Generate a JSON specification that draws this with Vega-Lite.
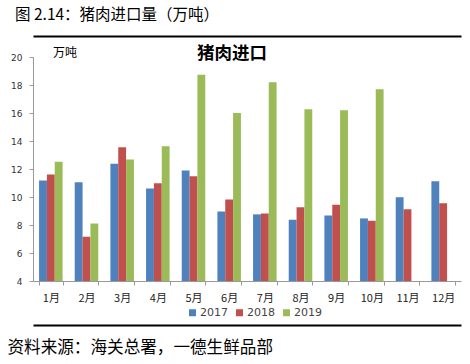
{
  "$schema": "https://vega.github.io/schema/vega-lite/v6.json",
  "width": 428,
  "height": 224,
  "autosize": "none",
  "padding": {"left": 33, "top": 57, "right": 9, "bottom": 83},
  "background": "white",
  "config": {"view": {"stroke": null}},
  "title": {
    "text": "图 2.14：猪肉进口量（万吨）",
    "anchor": "start",
    "frame": "group",
    "dx": -18,
    "offset": 13,
    "font": "Noto Sans CJK SC",
    "fontSize": 15.5,
    "fontWeight": "normal",
    "color": "#000000"
  },
  "data": {
    "values": [
      {"month": "1月", "year": "2017", "value": 11.17},
      {"month": "1月", "year": "2018", "value": 11.6},
      {"month": "1月", "year": "2019", "value": 12.52},
      {"month": "2月", "year": "2017", "value": 11.05},
      {"month": "2月", "year": "2018", "value": 7.16},
      {"month": "2月", "year": "2019", "value": 8.1},
      {"month": "3月", "year": "2017", "value": 12.37},
      {"month": "3月", "year": "2018", "value": 13.56},
      {"month": "3月", "year": "2019", "value": 12.68},
      {"month": "4月", "year": "2017", "value": 10.6},
      {"month": "4月", "year": "2018", "value": 10.98},
      {"month": "4月", "year": "2019", "value": 13.63},
      {"month": "5月", "year": "2017", "value": 11.9},
      {"month": "5月", "year": "2018", "value": 11.48},
      {"month": "5月", "year": "2019", "value": 18.73},
      {"month": "6月", "year": "2017", "value": 8.97},
      {"month": "6月", "year": "2018", "value": 9.83},
      {"month": "6月", "year": "2019", "value": 16.0},
      {"month": "7月", "year": "2017", "value": 8.76},
      {"month": "7月", "year": "2018", "value": 8.83},
      {"month": "7月", "year": "2019", "value": 18.2},
      {"month": "8月", "year": "2017", "value": 8.38},
      {"month": "8月", "year": "2018", "value": 9.26},
      {"month": "8月", "year": "2019", "value": 16.27},
      {"month": "9月", "year": "2017", "value": 8.68},
      {"month": "9月", "year": "2018", "value": 9.45},
      {"month": "9月", "year": "2019", "value": 16.2},
      {"month": "10月", "year": "2017", "value": 8.47},
      {"month": "10月", "year": "2018", "value": 8.3},
      {"month": "10月", "year": "2019", "value": 17.7},
      {"month": "11月", "year": "2017", "value": 9.98},
      {"month": "11月", "year": "2018", "value": 9.12},
      {"month": "12月", "year": "2017", "value": 11.12},
      {"month": "12月", "year": "2018", "value": 9.55}
    ]
  },
  "layer": [
    {
      "mark": {"type": "bar", "clip": true},
      "encoding": {
        "x": {
          "field": "month",
          "type": "nominal",
          "sort": ["1月","2月","3月","4月","5月","6月","7月","8月","9月","10月","11月","12月"],
          "scale": {"paddingInner": 0.34, "paddingOuter": 0.17},
          "axis": {
            "orient": "bottom",
            "title": null,
            "labelAngle": 0,
            "labelFont": "Noto Sans CJK SC",
            "labelFontSize": 11,
            "labelColor": "#222222",
            "labelPadding": 7,
            "labelBaseline": "top",
            "domainColor": "#999999",
            "tickColor": "#999999",
            "tickSize": 4,
            "tickBand": "extent",
            "grid": false
          }
        },
        "xOffset": {"field": "year", "type": "nominal"},
        "y": {
          "field": "value",
          "type": "quantitative",
          "scale": {"domain": [4, 20], "nice": false, "zero": false},
          "axis": {
            "values": [4, 6, 8, 10, 12, 14, 16, 18, 20],
            "grid": false,
            "title": "万吨",
            "titleAngle": 0,
            "titleX": 31.5,
            "titleY": -5,
            "titleAlign": "center",
            "titleBaseline": "middle",
            "titleFont": "Noto Sans CJK SC",
            "titleFontSize": 12,
            "titleFontWeight": "normal",
            "titleColor": "#000000",
            "labelFont": "DejaVu Sans",
            "labelFontSize": 9,
            "labelColor": "#333333",
            "labelPadding": 7,
            "tickSize": 4,
            "tickColor": "#999999",
            "domainColor": "#999999"
          }
        },
        "color": {
          "field": "year",
          "type": "nominal",
          "scale": {"domain": ["2017", "2018", "2019"], "range": ["#4F81BD", "#C0504D", "#9BBB59"]},
          "legend": {
            "orient": "none",
            "direction": "horizontal",
            "legendX": 154,
            "legendY": 250,
            "title": null,
            "symbolType": "square",
            "symbolSize": 49,
            "symbolStrokeWidth": 0,
            "labelFont": "DejaVu Sans",
            "labelFontSize": 11,
            "labelColor": "#444444",
            "labelOffset": 2,
            "columnPadding": 6
          }
        }
      }
    },
    {
      "mark": {"type": "point", "opacity": 0},
      "encoding": {
        "x": {
          "field": "month",
          "type": "nominal",
          "sort": ["1月","2月","3月","4月","5月","6月","7月","8月","9月","10月","11月","12月"],
          "axis": {
            "orient": "top",
            "offset": 21,
            "domainColor": "#000000",
            "domainWidth": 2,
            "ticks": false,
            "labels": false,
            "grid": false,
            "title": "猪肉进口",
            "titleX": 198.5,
            "titleY": 17.5,
            "titleAlign": "center",
            "titleBaseline": "middle",
            "titleAnchor": null,
            "titleFont": "Noto Sans CJK SC",
            "titleFontSize": 17.5,
            "titleFontWeight": "bold",
            "titleColor": "#000000"
          }
        }
      }
    },
    {
      "mark": {"type": "point", "opacity": 0},
      "encoding": {
        "x": {
          "field": "month",
          "type": "nominal",
          "sort": ["1月","2月","3月","4月","5月","6月","7月","8月","9月","10月","11月","12月"],
          "axis": {
            "orient": "bottom",
            "offset": 44,
            "domainColor": "#000000",
            "domainWidth": 2,
            "ticks": false,
            "labels": false,
            "grid": false,
            "title": "资料来源：海关总署，一德生鲜品部",
            "titleX": -26,
            "titleY": 22,
            "titleAlign": "left",
            "titleBaseline": "middle",
            "titleAnchor": null,
            "titleFont": "Noto Sans CJK SC",
            "titleFontSize": 16.6,
            "titleFontWeight": "normal",
            "titleColor": "#000000"
          }
        }
      }
    }
  ]
}
